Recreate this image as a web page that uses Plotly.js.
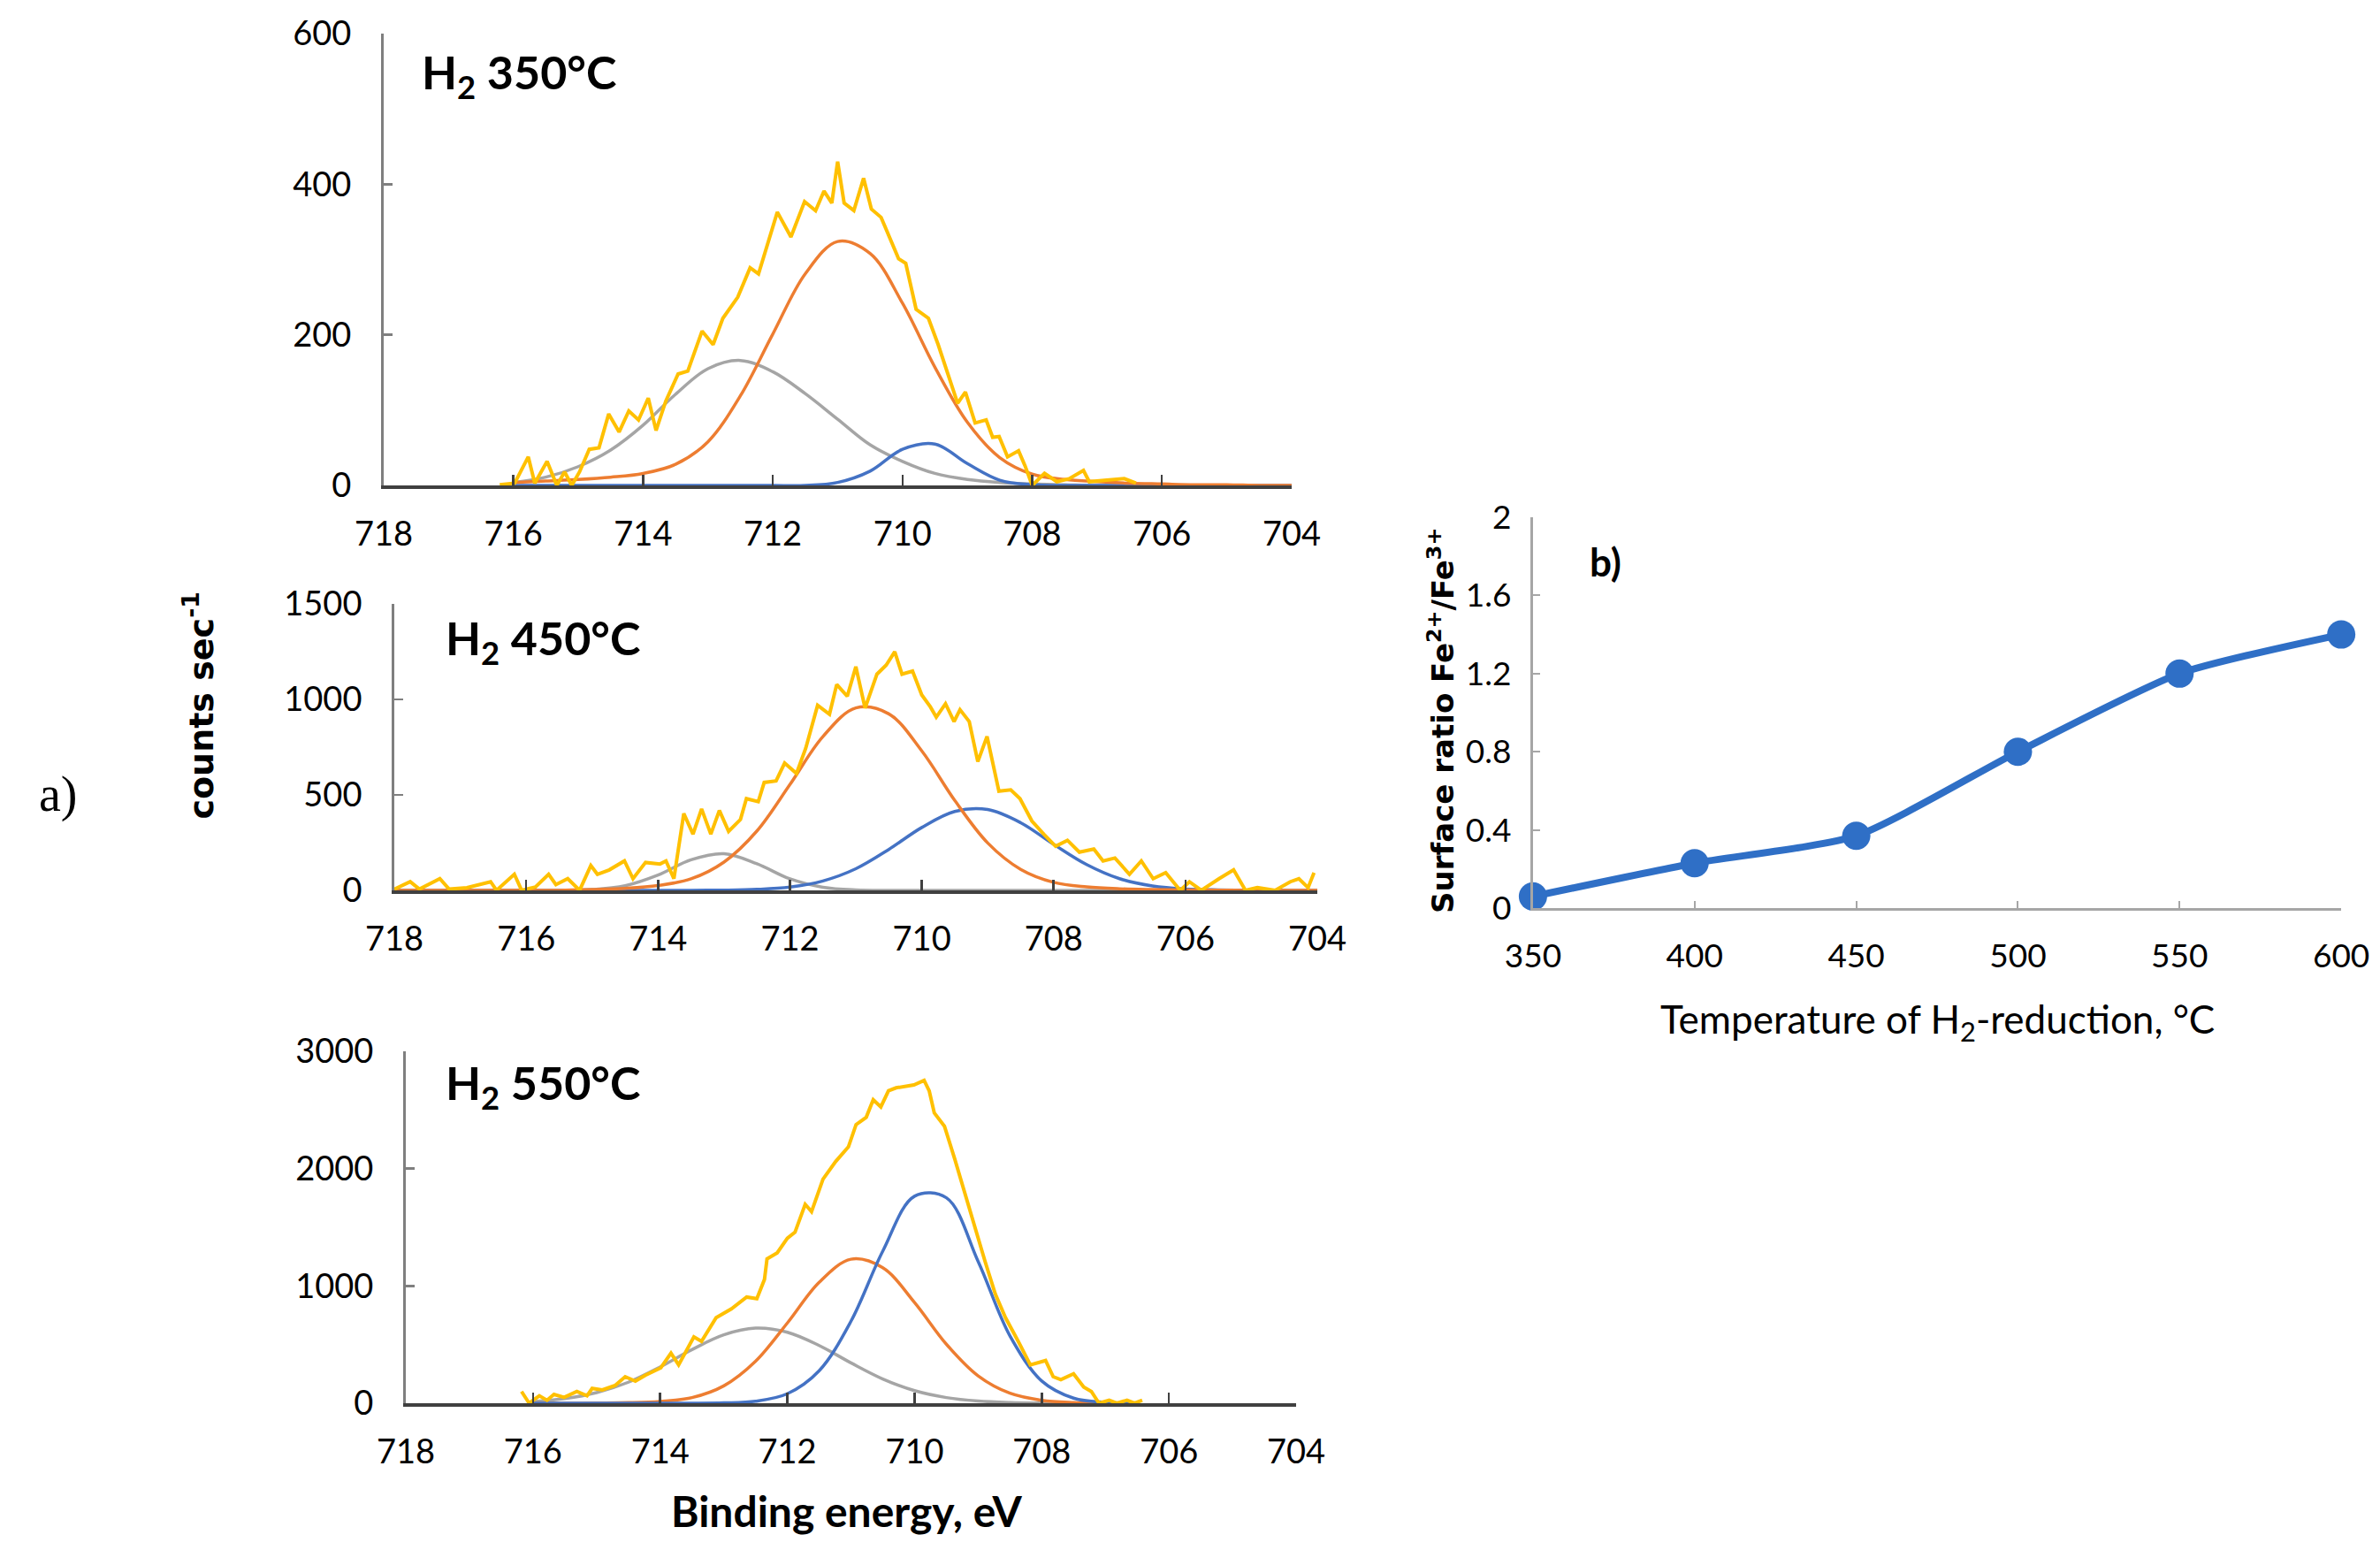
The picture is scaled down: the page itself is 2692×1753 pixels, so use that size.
<!DOCTYPE html>
<html>
<head>
<meta charset="utf-8">
<script src="https://cdn.plot.ly/plotly-3.0.1.min.js"></script>
<style>
  html, body { margin: 0; padding: 0; background: #fff; }
  #myDiv { width: 2692px; height: 1753px; }
</style>
</head>
<body>
<div id="myDiv"></div>
<script>
// Fe 2p XPS spectra (a) and surface Fe2+/Fe3+ ratio (b)

// --- H2 350 C: measured spectrum
var e350 = [716.21,715.98,715.77,715.67,715.48,715.33,715.21,715.10,714.98,714.83,
  714.68,714.53,714.37,714.22,714.07,713.92,713.80,713.65,713.46,713.31,
  713.09,712.92,712.77,712.54,712.35,712.22,711.93,711.72,711.51,711.34,
  711.21,711.09,711.00,710.90,710.75,710.60,710.48,710.33,710.06,709.95,
  709.79,709.60,709.45,709.30,709.15,709.03,708.88,708.71,708.61,708.51,
  708.38,708.21,708.11,708.00,707.81,707.62,707.43,707.21,707.12,706.85,
  706.58,706.40];
var raw350 = [1,3,38,3,32,0,18,0,18,48,
  50,95,71,99,87,116,73,112,148,152,
  205,187,222,250,289,281,363,330,377,365,
  391,375,430,375,365,408,367,356,301,295,
  234,222,187,148,109,124,83,87,64,65,
  38,46,26,0,16,5,9,20,5,7,
  9,3];
// fitted components, 0.5 eV grid 716 -> 704
var fit350E = [716,715.5,715,714.5,714,713.5,713,712.5,712,711.5,711,710.5,710,709.5,709,708.5,708,707.5,707,706.5,706,705.5,705,704.5,704];
var gray350 = [4,11,25,47,80,121,155,166,151,122,88,54,32,16,8,4,2,1,0,0,0,0,0,0,0];
var orange350 = [4,6,8,11,16,28,58,119,201,281,324,308,242,157,84,37,15,8,5,3,2,1,1,0,0];
var blue350 = [0,0,0,0,0,0,0,0,0,0,4,19,48,55,29,7,1,0,0,0,0,0,0,0,0];

// --- H2 450 C
var e450 = [718.00,717.89,717.76,717.62,717.31,717.17,716.90,716.54,716.45,716.18,
  716.07,715.86,715.66,715.55,715.37,715.19,715.02,714.92,714.74,714.51,
  714.38,714.19,713.97,713.88,713.76,713.61,713.47,713.34,713.20,713.07,
  712.93,712.75,712.66,712.48,712.39,712.21,712.08,711.90,711.76,711.58,
  711.40,711.29,711.13,711.00,710.86,710.68,710.54,710.41,710.30,710.14,
  710.00,709.87,709.78,709.64,709.51,709.42,709.28,709.15,709.01,708.83,
  708.65,708.51,708.33,708.15,707.97,707.79,707.61,707.39,707.25,707.07,
  706.85,706.67,706.49,706.30,706.08,705.94,705.76,705.49,705.27,705.09,
  704.91,704.64,704.41,704.28,704.14,704.05];
var raw450 = [6,22,45,6,61,6,14,45,0,84,
  0,17,84,30,61,0,130,84,107,154,
  61,146,138,154,61,402,294,426,294,418,
  309,371,480,464,565,573,666,612,744,969,
  922,1078,1016,1171,954,1132,1179,1249,1132,1148,
  1023,961,907,977,884,946,884,674,806,519,
  526,480,363,294,231,262,200,216,154,169,
  84,154,61,92,0,45,0,61,107,0,
  14,0,45,61,14,92];
var fit450E = [718,717.5,717,716.5,716,715.5,715,714.5,714,713.5,713,712.5,712,711.5,711,710.5,710,709.5,709,708.5,708,707.5,707,706.5,706,705.5,705,704.5,704];
var gray450 = [0,0,0,0,0,0,4,24,80,160,192,139,60,16,2,0,0,0,0,0,0,0,0,0,0,0,0,0,0];
var orange450 = [0,0,0,0,0,0,4,10,25,60,148,311,554,805,955,924,730,471,248,110,42,18,8,4,2,1,0,0,0];
var blue450 = [0,0,0,0,0,0,0,0,0,0,1,5,17,49,113,214,329,413,423,354,241,135,61,23,7,2,0,0,0];

// --- H2 550 C
var e550 = [716.18,716.06,715.90,715.78,715.67,715.51,715.31,715.15,715.07,714.91,
  714.71,714.55,714.39,714.23,713.99,713.83,713.71,713.47,713.35,713.12,
  712.88,712.64,712.48,712.36,712.32,712.16,712.00,711.88,711.72,711.62,
  711.44,711.24,711.04,710.92,710.76,710.65,710.53,710.41,710.29,710.17,
  710.01,709.85,709.77,709.69,709.53,709.37,709.21,709.05,708.89,708.73,
  708.57,708.37,708.18,707.94,707.82,707.70,707.50,707.34,707.22,707.10,
  706.94,706.82,706.66,706.54,706.42];
var raw550 = [100,0,63,25,75,50,100,63,126,113,
  151,226,188,239,302,427,327,565,528,729,
  804,905,892,1055,1231,1282,1407,1458,1696,1633,
  1910,2061,2186,2375,2438,2588,2526,2664,2689,2701,
  2714,2752,2664,2475,2362,2086,1784,1508,1206,930,
  729,528,327,364,226,201,251,138,100,0,
  25,0,25,0,25];
var fit550E = [716,715.5,715,714.5,714,713.5,713,712.5,712,711.5,711,710.5,710,709.5,709,708.5,708,707.5,707,706.5];
var gray550 = [14,39,90,179,309,457,583,640,605,492,344,207,107,48,18,6,2,1,0,0];
var orange550 = [0,0,2,5,16,48,148,358,684,1031,1228,1155,858,503,233,85,25,6,1,0];
var blue550 = [0,0,0,0,0,0,3,17,81,277,699,1297,1765,1752,1208,574,189,43,7,1];

// --- panel b
var temps = [350, 400, 450, 500, 550, 600];
var ratio = [0.06, 0.23, 0.37, 0.80, 1.20, 1.40];

var YELLOW = '#FFC000', ORANGE = '#ED7D31', GRAY = '#A5A5A5', BLUE = '#4472C4';

function fit(x, y, color, xa, ya) {
  return { x: x, y: y, xaxis: xa, yaxis: ya, type: 'scatter', mode: 'lines',
    line: { color: color, width: 3.5, shape: 'spline', smoothing: 1 }, hoverinfo: 'skip' };
}
function spec(x, y, xa, ya) {
  return { x: x, y: y, xaxis: xa, yaxis: ya, type: 'scatter', mode: 'lines',
    line: { color: YELLOW, width: 4 } };
}

var data = [
  fit(fit350E, gray350, GRAY, 'x', 'y'),
  fit(fit350E, blue350, BLUE, 'x', 'y'),
  fit(fit350E, orange350, ORANGE, 'x', 'y'),
  spec(e350, raw350, 'x', 'y'),

  fit(fit450E, gray450, GRAY, 'x2', 'y2'),
  fit(fit450E, blue450, BLUE, 'x2', 'y2'),
  fit(fit450E, orange450, ORANGE, 'x2', 'y2'),
  spec(e450, raw450, 'x2', 'y2'),

  fit(fit550E, gray550, GRAY, 'x3', 'y3'),
  fit(fit550E, orange550, ORANGE, 'x3', 'y3'),
  fit(fit550E, blue550, BLUE, 'x3', 'y3'),
  spec(e550, raw550, 'x3', 'y3'),

  { x: temps, y: ratio, xaxis: 'x4', yaxis: 'y4', type: 'scatter', mode: 'lines+markers',
    cliponaxis: false,
    line: { color: '#2F6FC6', width: 8, shape: 'spline', smoothing: 0.6 },
    marker: { color: '#2F6FC6', size: 32 } }
];

var tickFont = { family: 'Lato, sans-serif', size: 38, color: '#000' };

function eAxis(dom) {
  return { domain: dom, range: [718, 704], dtick: 2, tick0: 704,
    showline: true, linecolor: '#404040', linewidth: 4,
    ticks: 'inside', ticklen: 12, tickwidth: 2.5, tickcolor: '#404040',
    showgrid: false, zeroline: false, tickfont: tickFont, ticklabelstandoff: 18 };
}
function cAxis(dom, top, step) {
  return { domain: dom, range: [0, top], dtick: step,
    showline: true, linecolor: '#7F7F7F', linewidth: 3,
    ticks: 'inside', ticklen: 10, tickwidth: 2.5, tickcolor: '#7F7F7F',
    showgrid: false, zeroline: false, tickfont: tickFont, ticklabelstandoff: 26 };
}

var xa = eAxis([0.1612, 0.5427]);  xa.anchor = 'y';
var ya = cAxis([0.6868, 0.9783], 600, 200);  ya.anchor = 'x';
var xa2 = eAxis([0.1657, 0.5535]); xa2.anchor = 'y2';
var ya2 = cAxis([0.4256, 0.6104], 1500, 500); ya2.anchor = 'x2';
var xa3 = eAxis([0.1705, 0.5446]); xa3.anchor = 'y3';
var ya3 = cAxis([0.0947, 0.3217], 3000, 1000); ya3.anchor = 'x3';

function note(text, x, y, font, extra) {
  var a = { text: text, xref: 'paper', yref: 'paper', x: x, y: y,
    xanchor: 'center', yanchor: 'middle', showarrow: false, font: font };
  for (var k in extra) a[k] = extra[k];
  return a;
}

var layout = {
  width: 2692, height: 1753, autosize: false,
  margin: { l: 0, r: 0, t: 0, b: 0 },
  paper_bgcolor: '#fff', plot_bgcolor: 'rgba(0,0,0,0)',
  showlegend: false,
  xaxis: xa, yaxis: ya, xaxis2: xa2, yaxis2: ya2, xaxis3: xa3, yaxis3: ya3,
  xaxis4: { domain: [0.6441, 0.9837], anchor: 'y4', range: [350, 600], dtick: 50,
    showline: true, linecolor: '#A6A6A6', linewidth: 3,
    ticks: 'inside', ticklen: 8, tickwidth: 2, tickcolor: '#A6A6A6',
    showgrid: false, zeroline: false, ticklabelstandoff: 20,
    tickfont: { family: 'Lato, sans-serif', size: 37, color: '#000' } },
  yaxis4: { domain: [0.4141, 0.6663], anchor: 'x4', range: [0, 2], dtick: 0.4,
    showline: true, linecolor: '#A6A6A6', linewidth: 3,
    ticks: 'inside', ticklen: 8, tickwidth: 2, tickcolor: '#A6A6A6',
    showgrid: false, zeroline: false, ticklabelstandoff: 14,
    tickfont: { family: 'Lato, sans-serif', size: 37, color: '#000' } },
  annotations: [
    note('H<sub>2</sub> 350°C', 0.1765, 0.9515,
      { family: 'Lato, sans-serif', size: 52, weight: 'bold', color: '#000' }, { xanchor: 'left' }),
    note('H<sub>2</sub> 450°C', 0.1865, 0.5864,
      { family: 'Lato, sans-serif', size: 52, weight: 'bold', color: '#000' }, { xanchor: 'left' }),
    note('H<sub>2</sub> 550°C', 0.1865, 0.2995,
      { family: 'Lato, sans-serif', size: 52, weight: 'bold', color: '#000' }, { xanchor: 'left' }),
    note('counts sec<sup>-1</sup>', 0.0836, 0.5445,
      { family: 'DejaVu Sans', size: 38, weight: 'bold', color: '#000' }, { textangle: -90 }),
    note('a)', 0.0245, 0.4877,
      { family: 'Liberation Serif', size: 56, color: '#000' }, {}),
    note('Binding energy, eV', 0.3559, 0.0251,
      { family: 'Lato, sans-serif', size: 48, weight: 'bold', color: '#000' }, {}),
    note('b)', 0.6745, 0.6375,
      { family: 'Lato, sans-serif', size: 44, weight: 'bold', color: '#000' }, {}),
    note('Surface ratio Fe<sup>2+</sup>/Fe<sup>3+</sup>', 0.6055, 0.5351,
      { family: 'DejaVu Sans', size: 34, weight: 'bold', color: '#000' }, { textangle: -90 }),
    note('Temperature of H<sub>2</sub>-reduction, °C', 0.8139, 0.3411,
      { family: 'Lato, sans-serif', size: 44, color: '#000' }, {})
  ]
};

Plotly.newPlot('myDiv', data, layout, { displayModeBar: false, staticPlot: true });
</script>
</body>
</html>
